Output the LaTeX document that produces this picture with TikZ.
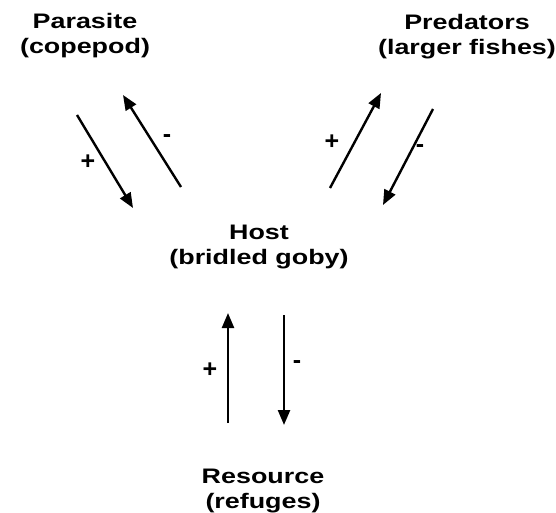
\documentclass[tikz,border=0pt]{standalone}
\usepackage{fontspec}
\setmainfont{Liberation Sans}
\usetikzlibrary{arrows.meta}
\begin{document}
\begin{tikzpicture}[x=1pt,y=-1pt]
\tikzstyle{taxon}=[inner sep=0pt,anchor=base,align=center,xscale=1.28,font=\bfseries\fontsize{21}{25}\selectfont]
\tikzstyle{sign}=[inner sep=0pt,font=\bfseries\fontsize{25}{28}\selectfont]
\tikzstyle{effect}=[line width=2.4pt,-{Triangle[length=15pt,width=12pt]}]
\useasboundingbox (0,0) rectangle (556,513);
\node[taxon] (par) at (85,54) {Parasite\\(copepod)};
\node[taxon] (pred) at (467,55) {Predators\\(larger fishes)};
\node[taxon] (host) at (259,264) {Host\\(bridled goby)};
\node[taxon] (res) at (263,508) {Resource\\(refuges)};
% host <-> parasite
\coordinate (pa) at (77,115); \coordinate (pb) at (133,208);
\coordinate (pc) at (181,187); \coordinate (pd) at (123,95);
\draw[effect] (pa) -- (pb);
\draw[effect] (pc) -- (pd);
\node[sign] (pplus) at (88,162) {+};
\node[sign] (pminus) at (167,139) {-};
% host <-> predators
\coordinate (qa) at (330,188); \coordinate (qb) at (381,93);
\coordinate (qc) at (433,109); \coordinate (qd) at (383,205);
\draw[effect] (qa) -- (qb);
\draw[effect] (qc) -- (qd);
\node[sign] (qplus) at (332,142) {+};
\node[sign] (qminus) at (420,149) {-};
% host <-> resource
\coordinate (ra) at (228,423); \coordinate (rb) at (228,313);
\coordinate (rc) at (284,315); \coordinate (rd) at (284,425);
\draw[effect] (ra) -- (rb);
\draw[effect] (rc) -- (rd);
\node[sign] (rplus) at (210,370) {+};
\node[sign] (rminus) at (297,365) {-};
\end{tikzpicture}
\end{document}
